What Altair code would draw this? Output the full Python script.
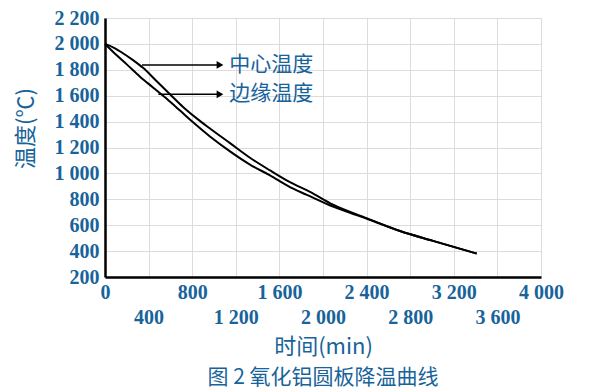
import altair as alt
import pandas as pd

# Curve readings (time in min, temperature in °C)
center_t = [0, 92, 165, 257, 349, 477, 596, 716, 844, 963, 1147, 1330, 1514,
            1697, 1881, 2092, 2404, 2706, 3009, 3410]
center_v = [2000, 1966, 1928, 1875, 1815, 1709, 1611, 1513, 1423, 1347, 1234,
            1121, 1023, 932, 857, 758, 653, 555, 479, 381]
edge_t = [0, 110, 202, 321, 440, 569, 688, 800, 963, 1147, 1330, 1514, 1697,
          1853, 2092, 2404, 2706, 3009, 3410]
edge_v = [2000, 1910, 1840, 1747, 1664, 1574, 1485, 1400, 1285, 1170, 1068,
          985, 894, 834, 743, 650, 555, 479, 381]

ann_labels = ["中心温度", "边缘温度"]
ann_start = [339, 490]
ann_end = [1055, 1055]
ann_text_x = [1140, 1140]
ann_y = [1838, 1611]

x_ticks = list(range(0, 4001, 400))
y_ticks = list(range(200, 2201, 200))

BLUE = "#17639a"
NUM_FONT = "Liberation Serif"
CJK_FONT = "Noto Sans CJK SC"

curves = pd.concat([
    pd.DataFrame({"t": center_t, "v": center_v, "s": "center"}),
    pd.DataFrame({"t": edge_t, "v": edge_v, "s": "edge"}),
])
ann = pd.DataFrame({"label": ann_labels, "x1": ann_start, "x2": ann_end,
                    "tx": ann_text_x, "y": ann_y})

fmt = "replace(format(datum.value, ','), ',', ' ')"

xscale = alt.Scale(domain=[0, 4000], nice=False)
yscale = alt.Scale(domain=[200, 2200], nice=False)

xaxis = alt.Axis(
    values=x_ticks, tickCount=len(x_ticks), title="时间(min)", grid=True,
    gridColor="#dcdcdc", domainColor="black", domainWidth=2.5, ticks=False,
    labelExpr=f"datum.value % 800 == 0 ? {fmt} : ['', {fmt}]",
    labelFont=NUM_FONT, labelFontWeight="bold", labelFontSize=20,
    labelColor=BLUE, labelPadding=5, labelLineHeight=25, labelBaseline="top",
    labelFlush=False, labelOverlap=False,
    titleFont=CJK_FONT, titleFontWeight="normal", titleFontSize=22,
    titleColor=BLUE, titlePadding=9,
)
yaxis = alt.Axis(
    values=y_ticks, tickCount=len(y_ticks), title="温度(℃)", grid=True,
    gridColor="#dcdcdc", domainColor="black", domainWidth=2.5, ticks=False,
    labelExpr=fmt, labelFont=NUM_FONT, labelFontWeight="bold",
    labelFontSize=20, labelColor=BLUE, labelPadding=6, labelFlush=False,
    labelOverlap=False,
    titleFont=CJK_FONT, titleFontWeight="normal", titleFontSize=22,
    titleColor=BLUE, titleX=-68, titleY=110,
)


def X(field):
    return alt.X(field, type="quantitative", scale=xscale, axis=xaxis)


def Y(field):
    return alt.Y(field, type="quantitative", scale=yscale, axis=yaxis)


lines = alt.Chart(curves).mark_line(
    color="black", strokeWidth=2, interpolate="monotone"
).encode(x=X("t"), y=Y("v"), detail="s:N")

arrows = alt.Chart(ann).mark_rule(color="black", strokeWidth=1.5).encode(
    x=X("x1"), x2="x2:Q", y=Y("y"),
)
heads = alt.Chart(ann).mark_point(
    shape="triangle-right", filled=True, color="black", size=60, opacity=1
).encode(x=X("x2"), y=Y("y"))
texts = alt.Chart(ann).mark_text(
    align="left", baseline="middle", font=CJK_FONT, fontSize=21, color=BLUE
).encode(x=X("tx"), y=Y("y"), text="label:N")

chart = alt.layer(lines, arrows, heads, texts).properties(
    width=436, height=259,
    title=alt.TitleParams(
        "图 2 氧化铝圆板降温曲线", orient="bottom", anchor="middle",
        font=CJK_FONT, fontSize=21, fontWeight="normal", color=BLUE, offset=10,
    ),
    autosize=alt.AutoSizeParams(type="none"),
    padding={"left": 97, "top": 10, "right": 50, "bottom": 113},
).configure_view(stroke=None).configure(background="white")

chart.save("out.html", embed_options={"renderer": "svg", "actions": False})
